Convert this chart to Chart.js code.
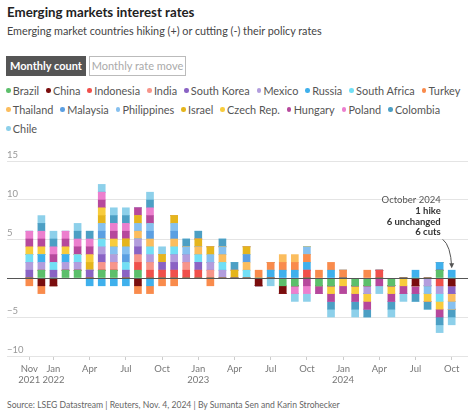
<!DOCTYPE html>
<html>
<head>
<meta charset="utf-8">
<script src="https://cdn.jsdelivr.net/npm/chart.js@4.4.1/dist/chart.umd.min.js"></script>
<style>
  body { margin: 0; width: 474px; height: 416px; background: #fff; font-family: Lato, sans-serif; position: relative; overflow: hidden; }
  #title { position: absolute; left: 7px; top: 3px; font-size: 13.3px; font-weight: 700; color: #222; line-height: 18px; }
  #subtitle { position: absolute; left: 7px; top: 23px; font-size: 10.8px; color: #444; line-height: 16px; white-space: nowrap; }
  .btn { position: absolute; top: 56px; height: 20px; line-height: 20px; font-size: 11px; text-align: center; box-sizing: border-box; white-space: nowrap; }
  #btn1 { left: 6px; width: 80px; background: #555; color: #fff; font-weight: 700; }
  #btn2 { left: 89px; width: 97px; border: 1px solid #bbb; color: #aaa; line-height: 18px; }
  #legend { position: absolute; left: 6px; top: 81px; width: 500px; display: flex; flex-wrap: wrap; font-size: 10.9px; color: #555; line-height: 19px; }
  .item { display: flex; align-items: center; margin-right: 7px; white-space: nowrap; }
  .dot { width: 4.5px; height: 4.5px; border-radius: 50%; margin-right: 2.3px; }
  .brk { flex-basis: 100%; height: 0; }
  #wrap { position: absolute; left: 0; top: 145px; }
  #source { position: absolute; left: 7px; top: 398px; font-size: 8.6px; color: #666; line-height: 14px; white-space: nowrap; }
</style>
</head>
<body>
<div id="title">Emerging markets interest rates</div>
<div id="subtitle">Emerging market countries hiking (+) or cutting (-) their policy rates</div>
<div class="btn" id="btn1">Monthly count</div>
<div class="btn" id="btn2">Monthly rate move</div>
<div id="legend"></div>
<div id="wrap"><canvas id="chart" width="474" height="250"></canvas></div>
<div id="source">Source: LSEG Datastream | Reuters, Nov. 4, 2024 | By Sumanta Sen and Karin Strohecker</div>

<script>
// months run Nov 2021 .. Oct 2024 (index 0..35); +1 = hike, -1 = cut
const brazil      = [0,1,0,1,1,0,1,1,0,1, 0,0,0,0,0,0,0,0,0,0, 0,-1,-1,0,-1,-1,0,-1,-1,0, -1,0,0,0,1,0];
const china       = [0,-1,-1,0,0,0,0,0,0,-1, 0,0,0,0,0,0,0,0,0,-1, 0,-1,0,0,0,0,0,0,0,0, 0,0,-1,0,0,-1];
const indonesia   = [0,0,0,0,0,0,0,0,0,1, 1,1,1,1,1,0,0,0,0,0, 0,0,0,1,0,0,0,0,0,1, 0,0,0,0,-1,0];
const india       = [0,0,0,0,0,0,1,1,0,1, 1,0,0,1,0,1,0,0,0,0, 0,0,0,0,0,0,0,0,0,0, 0,0,0,0,0,0];
const southKorea  = [1,0,1,0,0,1,1,0,1,1, 0,1,1,0,1,0,0,0,0,0, 0,0,0,0,0,0,0,0,0,0, 0,0,0,0,0,-1];
const mexico      = [1,1,0,1,1,0,1,1,0,1, 1,0,1,1,0,1,1,0,0,0, 0,0,0,0,0,0,0,0,-1,0, 0,0,0,-1,-1,0];
const russia      = [0,1,0,1,0,-1,-1,-1,-1,0, -1,0,0,0,0,0,0,0,0,0, 1,1,1,1,0,1,0,0,0,0, 0,0,1,0,1,1];
const southAfrica = [1,0,1,0,1,0,1,0,1,0, 1,0,1,0,1,0,1,0,1,0, 0,0,0,0,0,0,0,0,0,0, 0,0,0,0,-1,0];
const turkey      = [-1,-1,0,0,0,0,0,0,0,-1, -1,-1,-1,0,0,-1,0,0,0,1, 1,1,1,1,1,1,1,0,1,0, 0,0,0,0,0,0];
const thailand    = [0,0,0,0,0,0,0,0,0,1, 1,0,1,0,1,0,1,0,1,0, 0,1,1,0,0,0,0,0,0,0, 0,0,0,0,0,-1];
const malaysia    = [0,0,0,0,0,0,1,0,1,0, 1,0,1,0,0,0,0,0,1,0, 0,0,0,0,0,0,0,0,0,0, 0,0,0,0,0,0];
const philippines = [0,0,0,0,0,0,1,1,1,1, 1,0,1,1,0,1,1,0,0,0, 0,0,0,1,0,0,0,0,0,0, 0,0,0,-1,0,-1];
const israel      = [0,0,0,0,0,1,1,0,1,1, 0,1,1,0,1,1,0,1,1,0, 0,0,0,0,0,0,0,0,0,0, 0,0,0,0,0,0];
const czech       = [1,1,0,1,0,1,1,1,0,0, 0,0,0,0,0,0,0,0,0,0, 0,0,0,0,0,-1,-1,-1,-1,0, -1,-1,0,-1,-1,0];
const hungary     = [1,1,1,1,1,1,1,1,1,1, 1,0,0,0,0,0,0,0,0,0, 0,0,0,-1,-1,-1,-1,-1,-1,-1, -1,-1,-1,0,-1,0];
const poland      = [1,1,1,1,1,1,1,1,1,0, 1,0,0,0,0,0,0,0,0,0, 0,0,-1,-1,0,0,0,0,0,0, 0,0,0,0,0,0];
const colombia    = [0,1,1,0,1,1,0,1,1,0, 1,0,0,1,1,0,1,1,0,0, 0,0,0,0,0,-1,0,-1,-1,0, -1,0,-1,-1,-1,-1];
const chile       = [0,1,1,0,1,0,1,1,1,0, 1,1,0,0,0,0,0,0,0,0, -1,0,-1,-1,0,-1,0,-1,0,-1, -1,-1,0,0,-1,-1];

const countries = ['Brazil', 'China', 'Indonesia', 'India', 'South Korea', 'Mexico', 'Russia', 'South Africa', 'Turkey',
  'Thailand', 'Malaysia', 'Philippines', 'Israel', 'Czech Rep.', 'Hungary', 'Poland', 'Colombia', 'Chile'];
const series = [brazil, china, indonesia, india, southKorea, mexico, russia, southAfrica, turkey,
  thailand, malaysia, philippines, israel, czech, hungary, poland, colombia, chile];
const colors = ['#5cbf6b', '#7a0d0d', '#f0504b', '#f7958a', '#8a63c4', '#b29ddd', '#3fb0ec', '#72dff5', '#f98b4c',
  '#fbbd5e', '#5b9fe2', '#86c0ef', '#e5b51c', '#f8cc3c', '#b6489c', '#ec7fce', '#4c9fc4', '#8dd0ea'];

const tickMonths = [0, 2, 5, 8, 11, 14, 17, 20, 23, 26, 29, 32, 35];
const tickLabels = [['Nov', '2021'], ['Jan', '2022'], 'Apr', 'Jul', 'Oct', ['Jan', '2023'], 'Apr', 'Jul', 'Oct',
  ['Jan', '2024'], 'Apr', 'Jul', 'Oct'];
const noteLines = ['October 2024', '1 hike', '6 unchanged', '6 cuts'];
const legendBreaks = [9, 17];

// legend
const legend = document.getElementById('legend');
countries.forEach((name, i) => {
  if (legendBreaks.includes(i)) {
    const b = document.createElement('div');
    b.className = 'brk';
    legend.appendChild(b);
  }
  const item = document.createElement('div');
  item.className = 'item';
  item.innerHTML = '<span class="dot" style="background:' + colors[i] + '"></span>' + name;
  legend.appendChild(item);
});

const extras = {
  id: 'extras',
  afterDatasetsDraw(chart) {
    const { ctx, chartArea, scales: { x, y } } = chart;
    ctx.save();
    // zero line over the bars
    const y0 = Math.round(y.getPixelForValue(0)) + 0.5;
    ctx.strokeStyle = '#555';
    ctx.lineWidth = 1;
    ctx.beginPath();
    ctx.moveTo(chartArea.left, y0);
    ctx.lineTo(chartArea.right, y0);
    ctx.stroke();

    // note on the last month
    const last = brazil.length - 1;
    const bx = x.getPixelForValue(last);
    const tx = bx - 11;
    const ty = y.getPixelForValue(10);
    ctx.textAlign = 'right';
    ctx.textBaseline = 'middle';
    noteLines.forEach((t, k) => {
      ctx.font = (k === 0 ? '400 ' : '700 ') + '9.5px Lato';
      ctx.fillStyle = k === 0 ? '#555' : '#333';
      ctx.fillText(t, tx, ty + k * 10.8);
    });
    const top = y.getPixelForValue(1) - 2;
    const sx = tx + 2, sy = ty + 3 * 10.8 + 7;
    ctx.strokeStyle = '#555';
    ctx.beginPath();
    ctx.moveTo(sx, sy);
    ctx.quadraticCurveTo(bx - 1, sy + 6, bx, top - 1);
    ctx.stroke();
    ctx.fillStyle = '#555';
    ctx.beginPath();
    ctx.moveTo(bx, top);
    ctx.lineTo(bx - 2.5, top - 5);
    ctx.lineTo(bx + 2.5, top - 5);
    ctx.closePath();
    ctx.fill();
    ctx.restore();
  }
};

Chart.defaults.font.family = 'Lato';

new Chart(document.getElementById('chart'), {
  type: 'bar',
  data: {
    datasets: series.map((s, i) => ({
      label: countries[i],
      data: s.map((v, m) => ({ x: m, y: v })),
      backgroundColor: colors[i],
      borderWidth: 0,
      barThickness: 7
    }))
  },
  options: {
    responsive: false,
    animation: false,
    layout: { padding: { left: 7, right: 6, top: 16, bottom: 0 } },
    plugins: { legend: { display: false }, tooltip: { enabled: false } },
    scales: {
      x: {
        type: 'linear',
        stacked: true,
        offset: false,
        min: -1.85,
        max: 36.35,
        afterBuildTicks: (s) => { s.ticks = tickMonths.map(v => ({ value: v })); },
        afterFit: (s) => { s.height = 39; },
        border: { display: false },
        grid: { offset: false, drawOnChartArea: false, drawTicks: true, tickLength: 4, color: '#ccc' },
        ticks: {
          autoSkip: false,
          maxRotation: 0,
          padding: 3,
          color: '#777',
          font: { size: 9.5, lineHeight: 1.22 },
          callback: (v) => {
            const k = tickMonths.indexOf(v);
            return k < 0 ? '' : tickLabels[k];
          }
        }
      },
      y: {
        stacked: true,
        min: -10,
        max: 15,
        afterFit: (s) => { s.width = 0; },
        border: { display: false },
        grid: {
          drawTicks: false,
          color: (c) => (c.tick && c.tick.value === 0) ? 'rgba(0,0,0,0)' : '#e4e4e4'
        },
        ticks: {
          stepSize: 5,
          mirror: true,
          padding: 0,
          labelOffset: -6,
          color: '#999',
          font: { size: 9.5 },
          callback: (v) => v === 0 ? '' : (v < 0 ? '\u2212' + Math.abs(v) : String(v))
        }
      }
    }
  },
  plugins: [extras]
});
</script>
</body>
</html>
